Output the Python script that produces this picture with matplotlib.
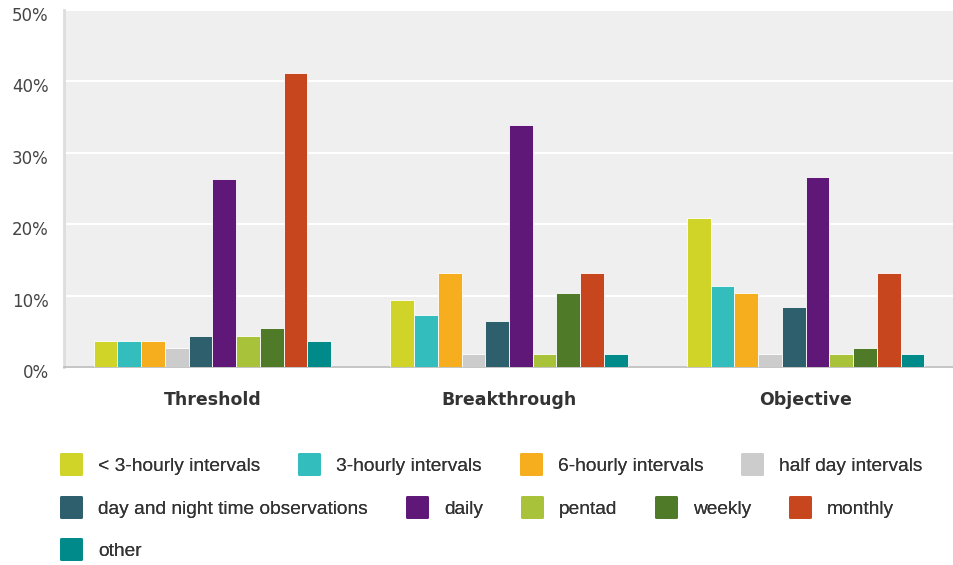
import matplotlib.pyplot as plt
import matplotlib.transforms as mtransforms
from matplotlib.lines import Line2D
from matplotlib.markers import MarkerStyle
import numpy as np

plt.rcParams['font.family'] = ['DejaVu Sans']

groups = ["Threshold", "Breakthrough", "Objective"]
series = ["< 3-hourly intervals", "3-hourly intervals", "6-hourly intervals", "half day intervals",
          "day and night time observations", "daily", "pentad", "weekly", "monthly", "other"]
colors = ["#d0d428", "#33bdbd", "#f6ae1f", "#cccccc", "#2d5f6d",
          "#5f1878", "#a8c23a", "#4f7a28", "#c8461d", "#008b8a"]

threshold = [3.6, 3.6, 3.6, 2.6, 4.4, 26.4, 4.4, 5.4, 41.2, 3.6]
breakthrough = [9.4, 7.3, 13.1, 1.8, 6.4, 33.9, 1.8, 10.4, 13.1, 1.8]
objective = [20.9, 11.3, 10.4, 1.8, 8.4, 26.6, 1.8, 2.6, 13.1, 1.8]
yticks = [0, 10, 20, 30, 40, 50]

values = np.array([threshold, breakthrough, objective])

fig = plt.figure(figsize=(9.54, 5.65), dpi=100)
ax = fig.add_axes([64 / 954, 1 - 367 / 565, 1 - 64 / 954, (367 - 10) / 565])
ax.set_facecolor("#efefef")

x = np.arange(len(groups))
n = len(series)
w = 0.8 / n
for i in range(n):
    ax.bar(x - 0.4 + w * (i + 0.5), values[:, i], width=w, color=colors[i],
           edgecolor="white", linewidth=0.6, zorder=3, label=series[i])

ax.set_xlim(-0.5, len(groups) - 0.5)
ax.set_ylim(0, 50)
ax.set_yticks(yticks)
ax.set_yticklabels([f"{t}%" for t in yticks])
ax.set_xticks(x)
ax.set_xticklabels(groups, fontweight="bold", fontsize=12.5, color="#333333")
ax.grid(axis="y", color="white", linewidth=1.5, zorder=1)
ax.tick_params(axis="y", length=0, pad=11, labelsize=12, labelcolor="#444444")
ax.tick_params(axis="x", length=0, pad=17)
# y labels sit a few pixels below their gridlines
shift = mtransforms.ScaledTranslation(0, -4 / 100, fig.dpi_scale_trans)
for lbl in ax.get_yticklabels():
    lbl.set_transform(lbl.get_transform() + shift)
for s in ["top", "right"]:
    ax.spines[s].set_visible(False)
ax.spines["left"].set_color("#dddddd")
ax.spines["left"].set_linewidth(2)
ax.spines["bottom"].set_color("#bbbbbb")
ax.spines["bottom"].set_linewidth(1.2)

# rounded legend squares
sq = MarkerStyle("s", joinstyle="round")
handles = [Line2D([], [], marker=sq, linestyle="none", markersize=14.6,
                  markerfacecolor=c, markeredgecolor=c, markeredgewidth=2) for c in colors]

rows = [(0, 4, 466), (4, 9, 509), (9, 10, 551)]
for a, b, yc in rows:
    leg = fig.legend(handles[a:b], series[a:b], ncol=b - a, loc="center left",
                     bbox_to_anchor=(60 / 954, 1 - yc / 565), frameon=False,
                     prop={"family": "Liberation Sans", "size": 13.8},
                     handlelength=1.2, handletextpad=0.8,
                     columnspacing=1.95, borderpad=0, borderaxespad=0)
    for t in leg.get_texts():
        t.set_color("#333333")
    fig.add_artist(leg)

fig.savefig("out.png", dpi=100)
